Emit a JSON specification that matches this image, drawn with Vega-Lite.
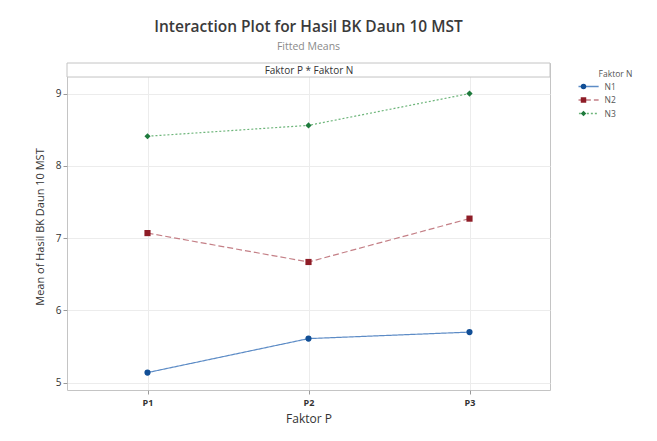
{
  "$schema": "https://vega.github.io/schema/vega-lite/v6.json",
  "width": 483,
  "height": 327,
  "autosize": {"type": "none"},
  "padding": {"left": 67, "top": 63, "right": 107, "bottom": 51},
  "background": "white",
  "title": {
    "text": "Interaction Plot for Hasil BK Daun 10 MST",
    "subtitle": "Fitted Means",
    "anchor": "middle",
    "font": "Open Sans",
    "fontSize": 15.5,
    "fontWeight": 600,
    "color": "#3a3a3a",
    "subtitleFont": "Open Sans",
    "subtitleFontSize": 10.5,
    "subtitleColor": "#8a8a8a",
    "subtitlePadding": 7,
    "offset": 10
  },
  "config": {
    "view": {"stroke": "#c4c4c4", "strokeWidth": 1},
    "axis": {
      "labelFont": "Open Sans",
      "titleFont": "Open Sans",
      "gridColor": "#ececec",
      "domain": false,
      "tickColor": "#9a9a9a",
      "labelColor": "#333333",
      "titleColor": "#333333",
      "titleFontWeight": "normal"
    },
    "legend": {"labelFont": "Open Sans", "titleFont": "Open Sans"}
  },
  "data": {
    "values": [
      {"P": "P1", "N": "N1", "mean": 5.14},
      {"P": "P2", "N": "N1", "mean": 5.61},
      {"P": "P3", "N": "N1", "mean": 5.70},
      {"P": "P1", "N": "N2", "mean": 7.07},
      {"P": "P2", "N": "N2", "mean": 6.67},
      {"P": "P3", "N": "N2", "mean": 7.27},
      {"P": "P1", "N": "N3", "mean": 8.41},
      {"P": "P2", "N": "N3", "mean": 8.56},
      {"P": "P3", "N": "N3", "mean": 9.00}
    ]
  },
  "layer": [
    {
      "data": {"values": [{}]},
      "mark": {"type": "rect", "fill": "white", "stroke": "#c4c4c4", "strokeWidth": 1},
      "encoding": {
        "y": {"datum": 9.229, "type": "quantitative"},
        "y2": {"datum": 9.423}
      }
    },
    {
      "mark": {"type": "line", "strokeWidth": 1.2},
      "encoding": {
        "x": {
          "field": "P",
          "type": "ordinal",
          "scale": {"type": "point", "padding": 0.5},
          "axis": {
            "orient": "bottom",
            "title": "Faktor P",
            "grid": true,
            "labelAngle": 0,
            "labelFontSize": 9,
            "labelFontWeight": "bold",
            "labelPadding": 4,
            "tickSize": 4,
            "titleFontSize": 12,
            "titlePadding": 6
          }
        },
        "y": {
          "field": "mean",
          "type": "quantitative",
          "scale": {"domain": [4.899, 9.423], "nice": false, "zero": false},
          "axis": {
            "values": [5, 6, 7, 8, 9],
            "format": "d",
            "title": "Mean of Hasil BK Daun 10 MST",
            "titleFontSize": 11,
            "labelFontSize": 10,
            "tickSize": 4,
            "grid": true,
            "titlePadding": 10
          }
        },
        "color": {
          "field": "N",
          "type": "nominal",
          "scale": {"domain": ["N1", "N2", "N3"], "range": ["#5d8cc6", "#c47f86", "#6db57a"]},
          "legend": {
            "title": "Faktor N",
            "orient": "none",
            "legendX": 511.5,
            "legendY": 7,
            "symbolType": "M-5.8,0H5.8",
            "symbolSize": 30,
            "symbolStrokeWidth": 1.5,
            "clipHeight": 12,
            "rowPadding": 1.5,
            "labelOffset": 17.5,
            "labelFontSize": 8.5,
            "labelColor": "#555555",
            "titleFontSize": 8.5,
            "titleFontWeight": "normal",
            "titleColor": "#555555",
            "titlePadding": 2,
            "titleAnchor": "end",
            "titleAlign": "center"
          }
        },
        "strokeDash": {
          "field": "N",
          "type": "nominal",
          "scale": {"domain": ["N1", "N2", "N3"], "range": [[1, 0], [6, 3], [2, 2]]},
          "legend": {
            "title": "Faktor N",
            "orient": "none",
            "legendX": 511.5,
            "legendY": 7
          }
        }
      }
    },
    {
      "mark": {"type": "point", "filled": true, "size": 38, "opacity": 1},
      "encoding": {
        "x": {
          "field": "P",
          "type": "ordinal",
          "axis": {
            "orient": "top",
            "title": "Faktor P * Faktor N",
            "labels": false,
            "ticks": false,
            "domain": false,
            "grid": false,
            "titlePadding": -12,
            "titleFontSize": 10,
            "zindex": 3
          }
        },
        "y": {"field": "mean", "type": "quantitative"},
        "fill": {
          "field": "N",
          "type": "nominal",
          "scale": {"range": ["#124f96", "#8e1c26", "#1e7a3c"]},
          "legend": {
            "title": null,
            "orient": "none",
            "legendX": 511.5,
            "legendY": 17.5,
            "symbolSize": 30,
            "symbolStrokeWidth": 1.5,
            "clipHeight": 12,
            "rowPadding": 1.5,
            "labelExpr": "''"
          }
        },
        "shape": {
          "field": "N",
          "type": "nominal",
          "scale": {"range": ["circle", "square", "diamond"]},
          "legend": {
            "title": null,
            "orient": "none",
            "legendX": 511.5,
            "legendY": 17.5
          }
        }
      }
    }
  ],
  "resolve": {"axis": {"x": "independent"}}
}
